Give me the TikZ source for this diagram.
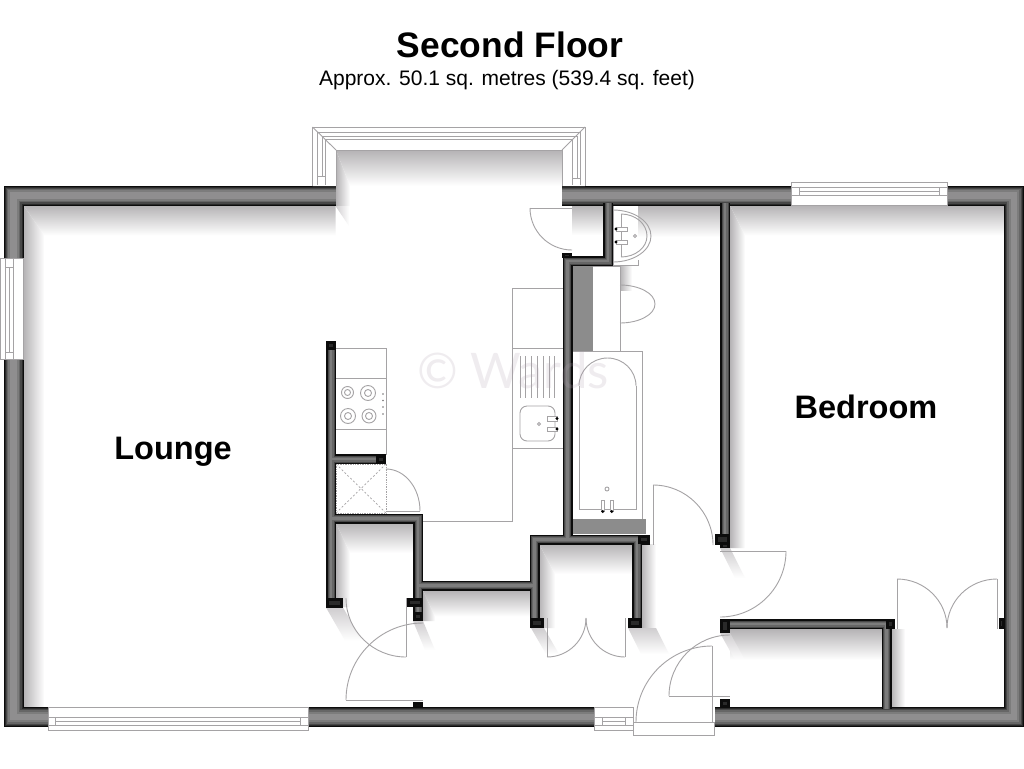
\documentclass[tikz,border=0pt]{standalone}
\usepackage{fontspec}
\setmainfont{Liberation Sans}
\newfontfamily\wmfont{Lato}
\definecolor{sh}{HTML}{B5B3B5}
\definecolor{shl}{HTML}{CFCDCF}
\definecolor{fx}{HTML}{A5A3A5}
\definecolor{wmk}{HTML}{B0A0B0}
\definecolor{ga}{HTML}{0C0C0C}
\definecolor{gb}{HTML}{2A2A2A}
\definecolor{gc}{HTML}{484848}
\definecolor{gd}{HTML}{666666}
\definecolor{ge}{HTML}{7C7C7C}
\definecolor{gf}{HTML}{8F8E8F}
\tikzset{
  fxline/.style={draw=fx,line width=0.9pt},
  whitefx/.style={draw=fx,fill=white,line width=0.9pt},
  winline/.style={draw=fx,line width=0.9pt},
  title/.style={font=\fontsize{35.4}{40}\selectfont\bfseries,inner sep=0pt},
  subtitle/.style={font=\fontsize{21}{25}\selectfont,inner sep=0pt},
  roomlabel/.style={font=\fontsize{32.5}{38}\selectfont\bfseries,inner sep=0pt},
  watermark/.style={font=\fontsize{49}{52}\selectfont\wmfont,text=wmk,text opacity=.2,inner sep=0pt}
}
% quarter ellipse: leaves point 1 horizontally, reaches point 2 vertically
\newcommand{\qH}[4]{\draw[fxline] (#1,#2) .. controls ({#1+.5523*(#3-#1)},#2) and (#3,{#4-.5523*(#4-#2)}) .. (#3,#4);}
% room shadow: x0 y0 x1 y1 w h
\newcommand{\roomshadow}[6]{%
  \shade[top color=sh,bottom color=white] (#1,#2) -- (#3,#2) -- (#3,{#2+#6}) -- ({#1+#5},{#2+#6}) -- cycle;
  \shade[left color=sh,right color=white] (#1,#2) -- ({#1+#5},{#2+#6}) -- ({#1+#5},#4) -- (#1,#4) -- cycle;}
\newcommand{\topshade}[4]{\shade[top color=sh,bottom color=white] (#1,#2) rectangle (#3,#4);}
\newcommand{\leftshade}[4]{\shade[left color=sh,right color=white] (#1,#2) rectangle (#3,#4);}
\newcommand{\dropshade}[5]{\shade[top color=shl,bottom color=white] (#1,#3) -- (#2,#3) -- ({#2+#4},{#3+#5}) -- ({#1+#4},{#3+#5}) -- cycle;}
\newcommand{\fatlayer}[2]{\draw[line width=#1,color=#2]
  (335.5,195.5) -- (13.5,195.5) -- (13.5,717) -- (60,717)
  (300,717) -- (600,717)
  (562,195.5) -- (1014,195.5) -- (1014,717) -- (715,717);}
\newcommand{\thinlayer}[2]{\draw[line width=#1,color=#2]
  (725,203) -- (725,548)
  (608,203) -- (608,261) -- (567.5,261) -- (567.5,539.5)
  (331,341) -- (331,607.5)
  (331,459) -- (386,459)
  (331,518.5) -- (418,518.5) -- (418,621)
  (418,585.5) -- (534.5,585.5)
  (534.5,628) -- (534.5,539.5) -- (637,539.5) -- (637,628)
  (637,539.5) -- (650,539.5)
  (720,624) -- (886.5,624) -- (886.5,709)
  (886.5,624) -- (895,624);}
\newcommand{\jamb}[4]{\fill[ga] (#1,#2) rectangle (#3,#4);
  \fill[gb] ({#1+3},{#2+3}) rectangle ({#3-3},{#4-3});}
\begin{document}
\begin{tikzpicture}[x=1pt,y=-1pt]
\useasboundingbox (0,0) rectangle (1024,768);
\fill[white] (0,0) rectangle (1024,768);
% shadows
\roomshadow{23.5}{205.5}{335.5}{707}{21}{30}
\roomshadow{336}{150}{562}{206}{14}{36}
\shade[left color=shl,right color=white] (335.5,206) -- (349,206) -- (349,226) -- cycle;
\roomshadow{730}{205.5}{1004}{548}{15}{30}
\topshade{572}{205.5}{603}{235}
\topshade{613}{205.5}{720}{237}
\leftshade{620}{266}{632}{290}
\roomshadow{336}{523}{413}{607}{14}{30}
\roomshadow{423}{590.5}{530}{621}{12}{26}
\roomshadow{539}{544}{632}{628}{16}{30}
\leftshade{641.5}{544}{656}{628}
\topshade{730}{629}{882}{660}
\leftshade{891}{629}{905}{707}
\dropshade{326}{343}{607.5}{19}{33}
\dropshade{413}{423}{621}{12}{29}
\dropshade{531}{544}{628}{15}{26}
\dropshade{628}{656}{628}{13}{26}
\dropshade{720}{730}{548}{15}{30}
\dropshade{720}{730}{633}{15}{27}
% kitchen right counter
\draw[fxline] (563,288) -- (512,288) -- (512,521) -- (423,521);
\draw[fxline] (512,348) -- (563,348);
\draw[fxline] (512,448) -- (563,448);
\draw[fxline,line width=0.7pt] (520,356) -- (520,398) (525.7,356) -- (525.7,398) (531.5,356) -- (531.5,398) (537,356) -- (537,398) (543,356) -- (543,398) (549,356) -- (549,398) (554.5,356) -- (554.5,398);
\draw[fxline,rounded corners=7pt] (520,406) rectangle (555,441);
\draw[whitefx] (547,416.5) rectangle (557,421);
\draw[whitefx] (547,427) rectangle (557,431.5);
\fill[black] (557,418.5) circle[radius=1.7] (557,429) circle[radius=1.7];
\draw[fxline] (539,424) circle[radius=1.5];
% kitchen left counter
\draw[fxline] (336,348) -- (386,348) -- (386,454.5);
\draw[fxline] (336,378) -- (386,378) (336,429) -- (386,429);
\draw[fxline] (347.5,392.5) circle[radius=6] (347.5,392.5) circle[radius=3];
\draw[fxline] (368,393) circle[radius=7.5] (368,393) circle[radius=3.5];
\draw[fxline] (348,416) circle[radius=7.5] (348,416) circle[radius=3.5];
\draw[fxline] (369,416) circle[radius=7] (369,416) circle[radius=3.5];
\fill[fx!70!black] (383,394) circle[radius=.9] (383,400.5) circle[radius=.9] (383,407) circle[radius=.9] (383,414) circle[radius=.9];
% boiler cupboard
\draw[fx,line width=.7pt,densely dotted] (336,464) rectangle (386,513);
\draw[fx,line width=.7pt,dash pattern=on 2pt off 2pt] (336,464) -- (386,513) (386,464) -- (336,513);
\qH{386}{469}{420}{511}
\draw[fxline] (386,511.5) -- (420,511.5);
% toilet
\fill[gray!90] (573,266) rectangle (593,352);
\draw[whitefx] (593,266) -- (620,266) -- (620,352) -- (593,352);
\qH{620}{285}{655}{304}
\qH{620}{323}{655}{304}
% bath
\fill[white] (572,351) rectangle (642,519);
\draw[fxline] (572,351) -- (642,351) -- (642,519);
\draw[fxline] (579,386) -- (579,509) -- (636,509) -- (636,386);
\qH{607.5}{358}{579}{386}
\qH{607.5}{358}{636}{386}
\fill[gray!90] (572,519) rectangle (646,534);
\draw[whitefx] (601,500) rectangle (604.5,511);
\draw[whitefx] (610,500) rectangle (613.5,511);
\fill[black] (602.7,511.5) circle[radius=1.7] (611.7,511.5) circle[radius=1.7];
\draw[fxline] (607,489) circle[radius=2];
% basin
\fill[white] (613,206) rectangle (638,265);
\draw[fxline] (613,206) -- (613,265) -- (638,265) -- (638,260);
\qH{613}{210}{651}{236}
\qH{613}{262}{651}{236}
\draw[fxline] (621,214) -- (621,257);
\qH{621}{214}{647}{236}
\qH{621}{257}{647}{236}
\draw[whitefx] (616,227) rectangle (627,231);
\draw[whitefx] (616,240) rectangle (627,244);
\fill[black] (616,229) circle[radius=1.7] (616,242) circle[radius=1.7];
\draw[fxline] (635,236) circle[radius=1.5];
% walls
\fatlayer{20pt}{ga}
\fatlayer{18pt}{gb}
\fatlayer{16pt}{gc}
\fatlayer{13.5pt}{gd}
\fatlayer{10.5pt}{ge}
\fatlayer{6.5pt}{gf}
\thinlayer{10pt}{ga}
\thinlayer{7pt}{gc}
\thinlayer{5pt}{gd}
\thinlayer{2.5pt}{ge}
\jamb{326}{341}{336}{350}
\jamb{376}{454.5}{386}{464}
\jamb{326}{598}{343}{608}
\jamb{407}{598}{423}{607}
\jamb{413}{612}{423}{621}
\jamb{530}{618}{544}{628}
\jamb{628}{618}{641.5}{628}
\jamb{638}{535}{650}{544}
\jamb{715}{534}{730}{545}
\jamb{720}{544}{730}{548}
\jamb{720}{619}{730}{633}
\jamb{886}{619}{895}{629}
\jamb{999}{618}{1004}{629}
\jamb{720}{699}{730}{708}
\jamb{413}{702}{423}{708}
\jamb{562}{253}{572}{258}
% doors
\draw[fxline] (653,485) -- (653,545);
\qH{653}{485}{713}{545}
\draw[fxline] (720,551) -- (786,551);
\qH{720}{617}{786}{551}
\draw[fxline] (897,629) -- (897,579);
\qH{897}{579}{947}{628}
\draw[fxline] (997,629) -- (997,579);
\qH{997}{579}{947}{628}
\draw[fxline] (669,696) -- (730,696);
\qH{730}{635}{669}{696}
\draw[fxline] (712,646) -- (712,722);
\qH{712}{646}{636}{722}
\draw[whitefx] (633,722) rectangle (714.5,735);
\draw[fxline] (346,700) -- (423,700);
\qH{423}{623}{346}{700}
\draw[fxline] (406,598) -- (406,657);
\qH{406}{657}{346}{598}
\draw[fxline] (547,618) -- (547,657);
\qH{547}{657}{586}{618}
\draw[fxline] (625,618) -- (625,657);
\qH{625}{657}{586}{618}
\draw[fxline] (530,208) -- (572,208);
\qH{572}{250}{530}{208}
% bay window
\fill[white] (312.5,127) -- (585,127) -- (585,186) -- (562,186) -- (562,150) -- (336,150) -- (336,186) -- (312.5,186) -- cycle;
\draw[winline] (312.5,186) -- (312.5,127) -- (585,127) -- (585,186);
\draw[winline] (336,186) -- (336,150) -- (562,150) -- (562,186);
\draw[winline] (312.5,127) -- (336,150) (585,127) -- (562,150);
\draw[winline] (317,132) -- (580,132) (322,136) -- (577,136) (325.6,139) -- (572,139);
\draw[winline] (317,132) -- (317,185) (322,136) -- (322,176) (325.6,139) -- (325.6,185);
\draw[winline] (580,132) -- (580,185) (577,136) -- (577,178) (572,139) -- (572,185);
\draw[winline] (317,176) -- (325.6,176) (572,178) -- (580,178);
% left window
\draw[winline,fill=white] (0,258) rectangle (23.5,359);
\draw[winline] (5.3,258) -- (5.3,359) (9.7,267) -- (9.7,352) (13.3,258) -- (13.3,359) (5.3,267) -- (13.3,267) (5.3,352) -- (13.3,352);
% top right window
\draw[winline,fill=white] (791.5,182) rectangle (947,205);
\draw[winline] (791.5,187.5) -- (947,187.5) (799.5,191.5) -- (939.5,191.5) (791.5,195.5) -- (947,195.5) (799.5,187.5) -- (799.5,195.5) (939.5,187.5) -- (939.5,195.5);
% bottom windows
\draw[winline,fill=white] (48,707) rectangle (308,730);
\draw[winline] (48,717.5) -- (308,717.5) (55.5,721.5) -- (300.5,721.5) (48,725.5) -- (308,725.5) (55.5,717.5) -- (55.5,725.5) (300.5,717.5) -- (300.5,725.5);
\draw[winline,fill=white] (594,707) rectangle (633,730);
\draw[winline] (594,717.5) -- (633,717.5) (602,721.5) -- (625,721.5) (594,725.5) -- (633,725.5) (602,717.5) -- (602,725.5) (625,717.5) -- (625,725.5);
% watermark
\node[watermark,anchor=center] (wm) at (513,371) {© Wards};
% labels
\node[title] (ttl) at (510,44.5) {Second Floor};
\node[subtitle] (sub) at (507,80) {Approx. 50.1 sq. metres (539.4 sq. feet)};
\node[roomlabel] (lounge) at (173,452) {Lounge};
\node[roomlabel] (bedroom) at (866,407) {Bedroom};
\end{tikzpicture}
\end{document}
